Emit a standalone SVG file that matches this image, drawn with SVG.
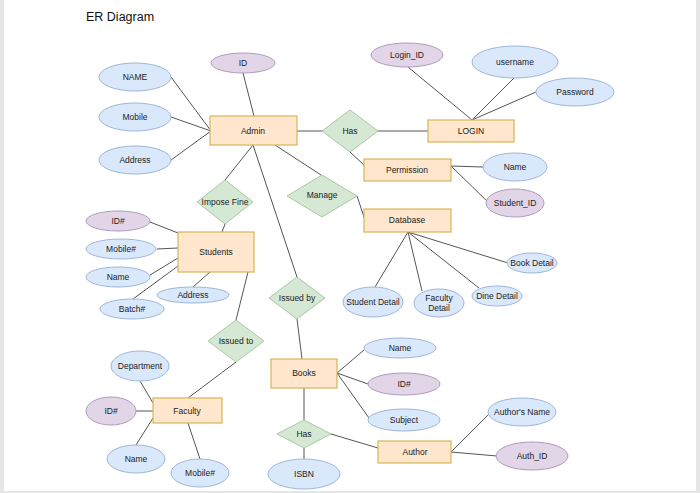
<svg xmlns="http://www.w3.org/2000/svg" width="700" height="493" viewBox="0 0 700 493">
<style>
text{font-family:"Liberation Sans",Arial,sans-serif;font-size:8.5px;fill:#222;text-anchor:middle;dominant-baseline:central}
.ent{fill:#ffe6cc;stroke:#d6b656;stroke-width:1.2}
.att{fill:#dae8fc;stroke:#9fb6d8;stroke-width:1}
.key{fill:#e1d5e7;stroke:#b19bc0;stroke-width:1}
.rel{fill:#d5e8d4;stroke:#a9c99f;stroke-width:1}
#connectors line{stroke:#555;stroke-width:1}
</style>
<rect x="0" y="0" width="700" height="493" fill="#e6e6e6"/>
<rect x="4" y="0" width="692" height="491" fill="#fff"/>
<text x="86" y="21" style="font-size:12.5px;text-anchor:start;dominant-baseline:auto;fill:#111">ER Diagram</text>
<g id="connectors">
<line x1="171" y1="77" x2="211" y2="131"/>
<line x1="171" y1="117" x2="211" y2="131"/>
<line x1="171" y1="160" x2="211" y2="131"/>
<line x1="243" y1="73" x2="254" y2="116"/>
<line x1="297" y1="131" x2="322" y2="131"/>
<line x1="378" y1="131" x2="428" y2="131"/>
<line x1="408" y1="67" x2="472" y2="120"/>
<line x1="514" y1="78" x2="472" y2="120"/>
<line x1="536" y1="92" x2="472" y2="120"/>
<line x1="350" y1="152" x2="364" y2="165"/>
<line x1="451" y1="166" x2="483" y2="167"/>
<line x1="451" y1="166" x2="489" y2="203"/>
<line x1="275" y1="145" x2="321" y2="175"/>
<line x1="357" y1="196" x2="365" y2="220"/>
<line x1="253" y1="145" x2="225" y2="180"/>
<line x1="253" y1="145" x2="297" y2="277"/>
<line x1="408" y1="232" x2="375" y2="287"/>
<line x1="408" y1="232" x2="422" y2="291"/>
<line x1="408" y1="232" x2="479" y2="288"/>
<line x1="408" y1="232" x2="508" y2="263"/>
<line x1="225" y1="224" x2="222" y2="232"/>
<line x1="150" y1="222" x2="178" y2="233"/>
<line x1="157" y1="249" x2="178" y2="248"/>
<line x1="150" y1="275" x2="178" y2="258"/>
<line x1="133" y1="299" x2="178" y2="266"/>
<line x1="193" y1="287" x2="210" y2="272"/>
<line x1="248" y1="272" x2="236" y2="320"/>
<line x1="236" y1="362" x2="188" y2="398"/>
<line x1="140" y1="381" x2="153" y2="403"/>
<line x1="136" y1="411" x2="153" y2="411"/>
<line x1="136" y1="445" x2="153" y2="418"/>
<line x1="200" y1="459" x2="188" y2="423"/>
<line x1="297" y1="319" x2="302" y2="359"/>
<line x1="337" y1="373" x2="364" y2="350"/>
<line x1="337" y1="373" x2="368" y2="384"/>
<line x1="337" y1="373" x2="369" y2="418"/>
<line x1="304" y1="388" x2="304" y2="420"/>
<line x1="304" y1="448" x2="304" y2="459"/>
<line x1="331" y1="434" x2="378" y2="448"/>
<line x1="451" y1="452" x2="489" y2="414"/>
<line x1="451" y1="452" x2="497" y2="456"/>
</g>
<g id="admin"><rect class="ent" x="210" y="116" width="87" height="29"/><text x="253" y="131">Admin</text></g>
<g id="admin-name"><ellipse class="att" cx="135" cy="77" rx="36" ry="14"/><text x="135" y="77">NAME</text></g>
<g id="admin-mobile"><ellipse class="att" cx="135" cy="117" rx="36" ry="14"/><text x="135" y="117">Mobile</text></g>
<g id="admin-address"><ellipse class="att" cx="135" cy="160" rx="36" ry="14"/><text x="135" y="160">Address</text></g>
<g id="admin-id"><ellipse class="key" cx="243" cy="63" rx="32" ry="10"/><text x="243" y="63">ID</text></g>
<g id="has1"><polygon class="rel" points="350,110 378,131 350,152 322,131"/><text x="350" y="131">Has</text></g>
<g id="login"><rect class="ent" x="428" y="120" width="86" height="22"/><text x="471" y="131">LOGIN</text></g>
<g id="login-id"><ellipse class="key" cx="407" cy="55" rx="36" ry="12"/><text x="407" y="55">Login_ID</text></g>
<g id="username"><ellipse class="att" cx="515" cy="62" rx="43" ry="16"/><text x="515" y="62">username</text></g>
<g id="password"><ellipse class="att" cx="575" cy="92" rx="39" ry="14"/><text x="575" y="92">Password</text></g>
<g id="permission"><rect class="ent" x="364" y="159" width="87" height="22"/><text x="407" y="170">Permission</text></g>
<g id="perm-name"><ellipse class="att" cx="515" cy="167" rx="32" ry="14"/><text x="515" y="167">Name</text></g>
<g id="perm-student-id"><ellipse class="key" cx="515" cy="203" rx="29" ry="14"/><text x="515" y="203">Student_ID</text></g>
<g id="manage"><polygon class="rel" points="322,175 357,196 322,217 287,196"/><text x="322" y="195">Manage</text></g>
<g id="database"><rect class="ent" x="364" y="209" width="87" height="23"/><text x="407" y="220">Database</text></g>
<g id="student-detail"><ellipse class="att" cx="373" cy="302" rx="30" ry="15"/><text x="373" y="302">Student Detail</text></g>
<g id="faculty-detail"><ellipse class="att" cx="439" cy="303" rx="25" ry="14"/><text x="439" y="298">Faculty</text><text x="439" y="308">Detail</text></g>
<g id="dine-detail"><ellipse class="att" cx="497" cy="296" rx="25" ry="10"/><text x="497" y="296">Dine Detail</text></g>
<g id="book-detail"><ellipse class="att" cx="532" cy="263" rx="25" ry="10"/><text x="532" y="263">Book Detail</text></g>
<g id="impose-fine"><polygon class="rel" points="225,180 253,202 225,224 197,202"/><text x="225" y="202">Impose Fine</text></g>
<g id="issued-by"><polygon class="rel" points="297,277 325,298 297,319 269,298"/><text x="297" y="298">Issued by</text></g>
<g id="students"><rect class="ent" x="178" y="232" width="76" height="40"/><text x="216" y="252">Students</text></g>
<g id="stu-id"><ellipse class="key" cx="118" cy="221" rx="32" ry="10"/><text x="118" y="221">ID#</text></g>
<g id="stu-mobile"><ellipse class="att" cx="121" cy="249" rx="35" ry="10"/><text x="121" y="249">Mobile#</text></g>
<g id="stu-name"><ellipse class="att" cx="118" cy="277" rx="32" ry="10"/><text x="118" y="277">Name</text></g>
<g id="stu-batch"><ellipse class="att" cx="132" cy="309" rx="32" ry="10"/><text x="132" y="309">Batch#</text></g>
<g id="stu-address"><ellipse class="att" cx="193" cy="295" rx="36" ry="8"/><text x="193" y="295">Address</text></g>
<g id="issued-to"><polygon class="rel" points="236,320 264,341 236,362 208,341"/><text x="236" y="341">Issued to</text></g>
<g id="faculty"><rect class="ent" x="153" y="398" width="69" height="25"/><text x="187" y="411">Faculty</text></g>
<g id="fac-department"><ellipse class="att" cx="140" cy="366" rx="29" ry="15"/><text x="140" y="366">Department</text></g>
<g id="fac-id"><ellipse class="key" cx="111" cy="411" rx="25" ry="14"/><text x="111" y="411">ID#</text></g>
<g id="fac-name"><ellipse class="att" cx="136" cy="459" rx="29" ry="14"/><text x="136" y="459">Name</text></g>
<g id="fac-mobile"><ellipse class="att" cx="200" cy="473" rx="29" ry="14"/><text x="200" y="473">Mobile#</text></g>
<g id="books"><rect class="ent" x="271" y="359" width="66" height="29"/><text x="304" y="373">Books</text></g>
<g id="book-name"><ellipse class="att" cx="400" cy="348" rx="36" ry="10"/><text x="400" y="348">Name</text></g>
<g id="book-id"><ellipse class="key" cx="404" cy="384" rx="36" ry="11"/><text x="404" y="384">ID#</text></g>
<g id="book-subject"><ellipse class="att" cx="404" cy="420" rx="36" ry="11"/><text x="404" y="420">Subject</text></g>
<g id="has2"><polygon class="rel" points="304,420 331,434 304,448 277,434"/><text x="304" y="434">Has</text></g>
<g id="isbn"><ellipse class="att" cx="304" cy="474" rx="36" ry="15"/><text x="304" y="474">ISBN</text></g>
<g id="author"><rect class="ent" x="378" y="441" width="73" height="22"/><text x="415" y="452">Author</text></g>
<g id="author-name"><ellipse class="att" cx="522" cy="412" rx="34" ry="14"/><text x="522" y="412">Author's Name</text></g>
<g id="auth-id"><ellipse class="key" cx="532" cy="456" rx="36" ry="14"/><text x="532" y="456">Auth_ID</text></g>
</svg>
